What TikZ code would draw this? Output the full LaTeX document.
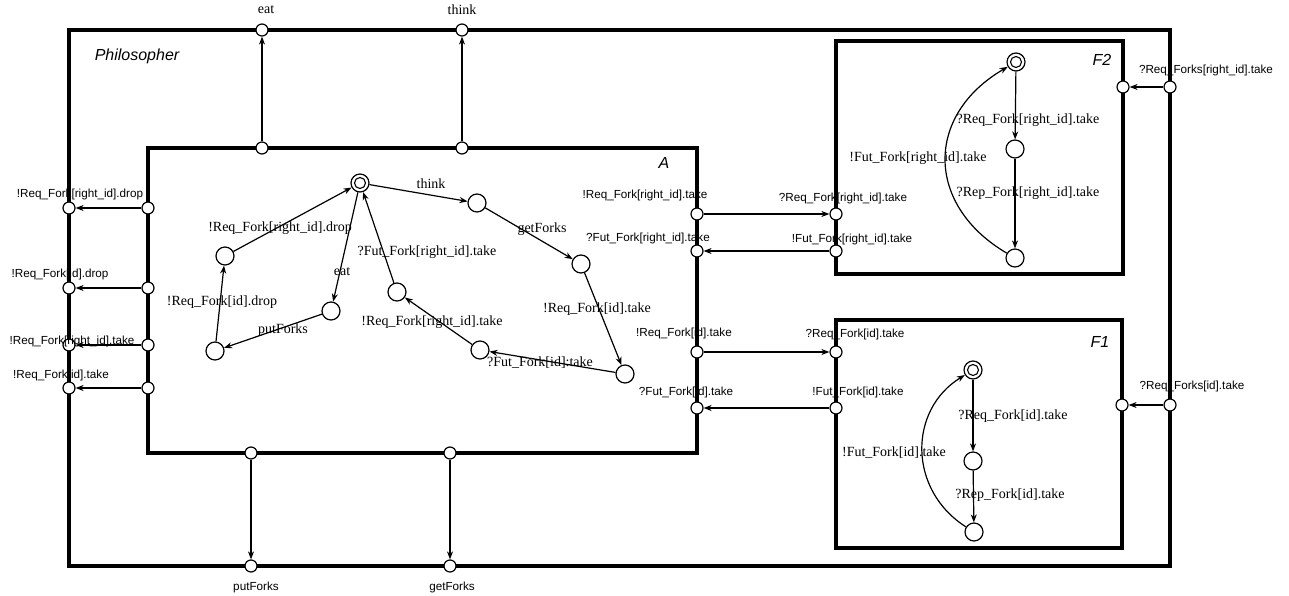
\documentclass[tikz,border=0pt]{standalone}
\usepackage{fontspec}
\setmainfont{Liberation Serif}
\setsansfont{Liberation Sans}
\usetikzlibrary{arrows.meta}
\begin{document}
\begin{tikzpicture}[x=1pt,y=-1pt,
  box/.style={line width=3.5pt},
  port/.style={circle,draw,fill=white,line width=1.2pt,minimum size=12pt,inner sep=0pt},
  state/.style={circle,draw,fill=white,line width=1.2pt,minimum size=18pt,inner sep=0pt},
  initstate/.style={state,path picture={\draw[line width=1.1pt] (path picture bounding box.center) circle (5.5pt);}},
  conn/.style={line width=1.2pt,-{Stealth[length=8pt,width=6pt,inset=2.5pt]}},
  plab/.style={font=\sffamily\fontsize{11.7}{13}\selectfont,inner sep=0pt},
  slab/.style={font=\fontsize{14}{16}\selectfont,inner sep=0pt},
  ttl/.style={font=\sffamily\itshape\fontsize{16}{18}\selectfont,inner sep=0pt}
]
\useasboundingbox (0,0) rectangle (1289,596);
% boxes
\draw[box] (69,30) rectangle (1170,566);
\draw[box] (148,148) rectangle (697,453);
\draw[box] (836,41) rectangle (1123,274);
\draw[box] (836,320) rectangle (1122,548);
\node[ttl] (tphil) at (137,56) {Philosopher};
\node[ttl] (tA) at (664,163) {A};
\node[ttl] (tF2) at (1102,60) {F2};
\node[ttl] (tF1) at (1100,342) {F1};
% outer ports
\node[port] (oeat) at (262,30) {};
\node[port] (othink) at (462,30) {};
\node[port] (oput) at (251,566) {};
\node[port] (oget) at (450,566) {};
\node[port] (ol1) at (69,208) {};
\node[port] (ol2) at (69,288) {};
\node[port] (ol3) at (69,345) {};
\node[port] (ol4) at (69,388) {};
\node[port] (of2) at (1170,87) {};
\node[port] (of1) at (1170,405) {};
% A ports
\node[port] (aeat) at (262,148) {};
\node[port] (athink) at (462,148) {};
\node[port] (aput) at (251,453) {};
\node[port] (aget) at (450,453) {};
\node[port] (al1) at (148,208) {};
\node[port] (al2) at (148,288) {};
\node[port] (al3) at (148,345) {};
\node[port] (al4) at (148,388) {};
\node[port] (ar1) at (697,214) {};
\node[port] (ar2) at (697,251) {};
\node[port] (ar3) at (697,352) {};
\node[port] (ar4) at (697,408) {};
% F ports
\node[port] (f2a) at (836,214) {};
\node[port] (f2b) at (836,251) {};
\node[port] (f2r) at (1123,87) {};
\node[port] (f1a) at (836,352) {};
\node[port] (f1b) at (836,408) {};
\node[port] (f1r) at (1122,405) {};
% port connectors
\draw[conn] (aeat) -- (oeat);
\draw[conn] (athink) -- (othink);
\draw[conn] (aput) -- (oput);
\draw[conn] (aget) -- (oget);
\draw[conn] (al1) -- (ol1);
\draw[conn] (al2) -- (ol2);
\draw[conn] (al3) -- (ol3);
\draw[conn] (al4) -- (ol4);
\draw[conn] (ar1) -- (f2a);
\draw[conn] (f2b) -- (ar2);
\draw[conn] (ar3) -- (f1a);
\draw[conn] (f1b) -- (ar4);
\draw[conn] (of2) -- (f2r);
\draw[conn] (of1) -- (f1r);
% port labels
\node[slab] (leat) at (266,10) {eat};
\node[slab] (lthink) at (462,10) {think};
\node[plab] (lput) at (256,587) {putForks};
\node[plab] (lget) at (452,587) {getForks};
\node[plab] (ll1) at (80,194) {!Req\_Fork[right\_id].drop};
\node[plab] (ll2) at (60,274) {!Req\_Fork[id].drop};
\node[plab] (ll3) at (72,341) {!Req\_Fork[right\_id].take};
\node[plab] (ll4) at (61,375) {!Req\_Fork[id].take};
\node[plab] (lr1) at (645,195) {!Req\_Fork[right\_id].take};
\node[plab] (lr2) at (648,238) {?Fut\_Fork[right\_id].take};
\node[plab] (lr3) at (684,333) {!Req\_Fork[id].take};
\node[plab] (lr4) at (686,392) {?Fut\_Fork[id].take};
\node[plab] (lf2a) at (843,198) {?Req\_Fork[right\_id].take};
\node[plab] (lf2b) at (852,239) {!Fut\_Fork[right\_id].take};
\node[plab] (lf1a) at (855,334) {?Req\_Fork[id].take};
\node[plab] (lf1b) at (858,392) {!Fut\_Fork[id].take};
\node[plab] (lof2) at (1206,70) {?Req\_Forks[right\_id].take};
\node[plab] (lof1) at (1192,386) {?Req\_Forks[id].take};
% automaton A
\node[initstate] (s0) at (360,183) {};
\node[state] (sth) at (477,203) {};
\node[state] (sgf) at (581,264) {};
\node[state] (srq) at (625,374) {};
\node[state] (sfu) at (480,350) {};
\node[state] (srr) at (397,292) {};
\node[state] (sea) at (331,311) {};
\node[state] (spu) at (215,351) {};
\node[state] (sdr) at (225,256) {};
\draw[conn] (s0) -- (sth);
\draw[conn] (sth) -- (sgf);
\draw[conn] (sgf) -- (srq);
\draw[conn] (srq) -- (sfu);
\draw[conn] (sfu) -- (srr);
\draw[conn] (srr) -- (s0);
\draw[conn] (s0) -- (sea);
\draw[conn] (sea) -- (spu);
\draw[conn] (spu) -- (sdr);
\draw[conn] (sdr) -- (s0);
\node[slab] (ethink) at (431,184) {think};
\node[slab] (egf) at (542,229) {getForks};
\node[slab] (erq) at (597,309) {!Req\_Fork[id].take};
\node[slab] (efu) at (540,363) {?Fut\_Fork[id]:take};
\node[slab] (err) at (432,322) {!Req\_Fork[right\_id].take};
\node[slab] (eff) at (427,252) {?Fut\_Fork[right\_id].take};
\node[slab] (eeat) at (342,272) {eat};
\node[slab] (epu) at (283,330) {putForks};
\node[slab] (edr1) at (222,302) {!Req\_Fork[id].drop};
\node[slab] (edr2) at (280,228) {!Req\_Fork[right\_id].drop};
% automaton F2
\node[initstate] (g0) at (1016,62) {};
\node[state] (g1) at (1015,149) {};
\node[state] (g2) at (1015,258) {};
\draw[conn] (g0) -- (g1);
\draw[conn] (g1) -- (g2);
\draw[conn] (g2) .. controls (925,205) and (925,115) .. (g0);
\node[slab] (lg01) at (1028,120) {?Req\_Fork[right\_id].take};
\node[slab] (lg12) at (1028,193) {?Rep\_Fork[right\_id].take};
\node[slab] (lg20) at (918,158) {!Fut\_Fork[right\_id].take};
% automaton F1
\node[initstate] (h0) at (973,370) {};
\node[state] (h1) at (973,461) {};
\node[state] (h2) at (974,532) {};
\draw[conn] (h0) -- (h1);
\draw[conn] (h1) -- (h2);
\draw[conn] (h2) .. controls (908,490) and (908,410) .. (h0);
\node[slab] (lh01) at (1013,416) {?Req\_Fork[id].take};
\node[slab] (lh12) at (1010,495) {?Rep\_Fork[id].take};
\node[slab] (lh20) at (894,453) {!Fut\_Fork[id].take};
\end{tikzpicture}
\end{document}
